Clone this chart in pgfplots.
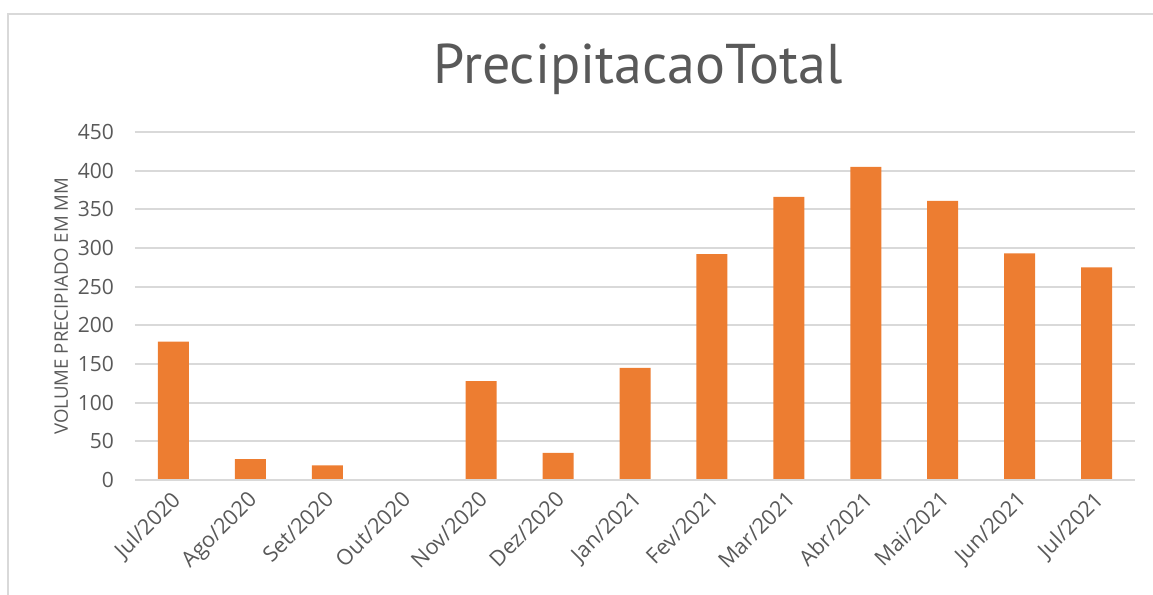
\documentclass[border=0pt]{standalone}
\usepackage{pgfplots}
\pgfplotsset{compat=1.18}
\usepackage{fontspec}
\setmainfont{Open Sans}
\newfontfamily\titlefont{PT Sans}
\definecolor{barorange}{HTML}{ED7D31}
\definecolor{gridgray}{HTML}{D9D9D9}
\definecolor{textgray}{HTML}{595959}
\begin{document}
\begin{tikzpicture}[x=0.5pt,y=0.5pt]
\path[use as bounding box] (0,0) rectangle (1153,595);
\draw[gridgray,line width=1.2pt] (8,0) -- (8,581) -- (1153,581);
\node[text=textgray,font=\titlefont\fontsize{28}{30}\selectfont] at (638,526) {PrecipitacaoTotal};
\begin{axis}[
  at={(67.5pt,57.5pt)}, anchor=south west,
  scale only axis, width=500pt, height=174pt,
  ymin=0, ymax=450, ytick={0,50,...,450},
  xmin=-0.5, xmax=12.5,
  xtick=data,
  xticklabels={Jul/2020,Ago/2020,Set/2020,Out/2020,Nov/2020,Dez/2020,Jan/2021,Fev/2021,Mar/2021,Abr/2021,Mai/2021,Jun/2021,Jul/2021},
  x tick label style={rotate=45, anchor=north east, font=\fontsize{10.8}{12}\selectfont, text=textgray, inner sep=1pt, xshift=-3.5pt, yshift=-1pt},
  y tick label style={font=\fontsize{10.5}{12}\selectfont, text=textgray, xshift=-7pt},
  /pgf/number format/assume math mode=true,
  ymajorgrids, grid style={gridgray, line width=0.9pt},
  axis line style={draw=none},
  axis x line*=bottom,
  major tick length=0pt,
  ylabel={VOLUME PRECIPIADO EM MM},
  ylabel style={font=\fontsize{9.3}{11}\selectfont, text=textgray, yshift=-2pt},
  ybar, bar width=15.5pt,
  clip=false,
]
\addplot[fill=barorange, draw=none] coordinates {
(0,179) (1,27) (2,19) (3,0) (4,128) (5,35) (6,145) (7,292) (8,366) (9,405) (10,361) (11,293) (12,275)
};
\draw[gridgray, line width=0.9pt] (axis cs:-0.5,0) -- (axis cs:12.5,0);
\end{axis}
\end{tikzpicture}
\end{document}
